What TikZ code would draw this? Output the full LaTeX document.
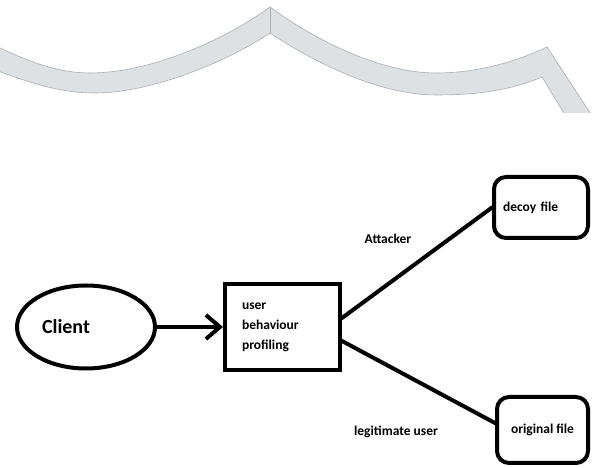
\documentclass[tikz,border=0pt]{standalone}
\usepackage{fontspec}
\setmainfont{Carlito}
\usepackage{tikz}
\usetikzlibrary{shapes,arrows.meta,calc}
\definecolor{bandgray}{HTML}{DDE1E4}
\definecolor{bandline}{HTML}{A9AEB2}

\begin{document}
\begin{tikzpicture}[x=1pt,y=1pt]

        \tikzstyle{every node}=[font=\bfseries\fontsize{13.5}{20}\selectfont,text=black]
        \tikzstyle{proc}=[draw,line width=4pt,minimum width=115pt,minimum height=86pt,text width=81pt,align=left]
        \tikzstyle{filebox}=[draw,line width=4pt,rounded corners=12pt]
        \tikzstyle{conn}=[line width=4pt,line cap=round]
        \useasboundingbox (0,0) rectangle (592,468);

        % band at the top
        \begin{scope}
        \clip (0,355) rectangle (592,468);
        \draw[fill=bandgray,draw=bandline,line width=.6pt]
          (-10,425) .. controls (30,405) and (60,395) .. (90,395)
          .. controls (150,395) and (225,428) .. (270,461)
          .. controls (315,428) and (380,395) .. (436,395)
          .. controls (480,395) and (520,408) .. (547,421)
          -- (600,340) -- (573,340) -- (542,391)
          .. controls (510,378) and (480,373) .. (436,373)
          .. controls (380,373) and (315,405) .. (270,435)
          .. controls (225,405) and (150,375) .. (95,375)
          .. controls (60,375) and (30,385) .. (-10,400) -- cycle;
        \draw[bandline,line width=.6pt] (270,435) -- (270,461);
        \end{scope}

        \node[ellipse,draw,line width=4pt,minimum width=138pt,minimum height=83pt,
              text width=88pt,align=left,font=\bfseries\fontsize{20}{24}\selectfont] (client) at (86,141) {Client};
        \node[proc] (profile) at (282.5,141) {user\\behaviour\\profiling};
        \node[filebox,minimum width=94pt,minimum height=61pt,text width=76pt,align=left] (decoy) at (541,260.5) {decoy file};
        \node[filebox,minimum width=91pt,minimum height=66pt] (orig) at (542.5,38) {original file};

        \node (att) at (388,229) {Attacker};
        \node (legit) at (396,36) {legitimate user};

        \draw[conn,-{Straight Barb[length=14pt,width=24pt]}] (client) -- (profile);
        \draw[conn] ([yshift=9pt]profile.east) -- (decoy.west);
        \draw[conn] ([yshift=-14pt]profile.east) -- ([yshift=7pt]orig.west);
      \end{tikzpicture}
\end{document}
